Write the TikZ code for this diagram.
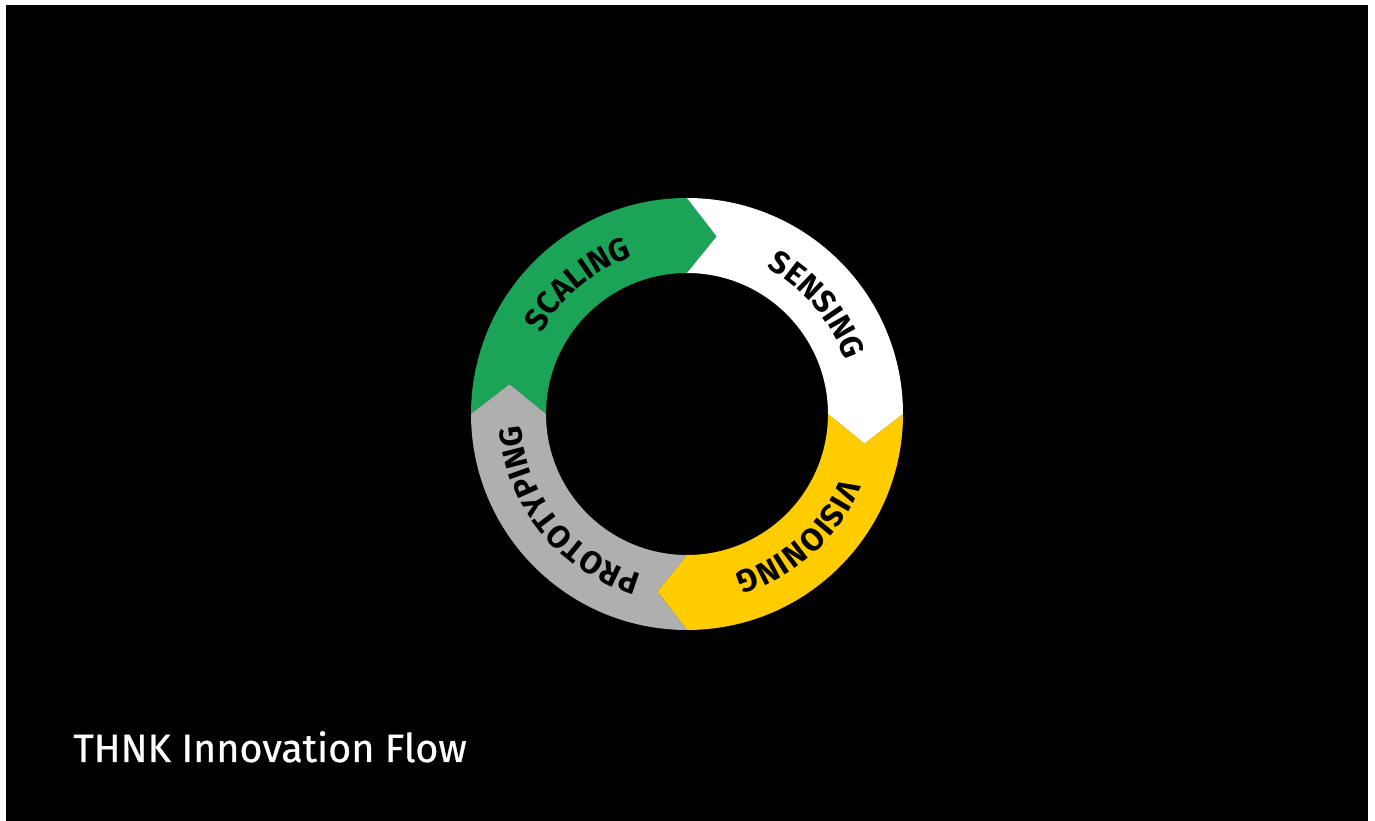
\documentclass[tikz,border=0pt]{standalone}
\usepackage{fontspec}
\setmainfont{Fira Sans}
\newfontfamily\ringfont{Fira Sans}
\newfontfamily\titlefont[FakeBold=0.6]{Fira Sans}
\usetikzlibrary{decorations.text}

\definecolor{thnkgreen}{RGB}{27,163,88}
\definecolor{thnkyellow}{RGB}{255,204,0}
\definecolor{thnkgray}{RGB}{175,175,175}

\tikzset{
  ringlabel/.style={decorate, decoration={text along path, text align=center, text={|\ringfont\bfseries\fontsize{18}{18}\selectfont|#1}}}
}

\begin{document}
\begin{tikzpicture}
        %%%%%%%%% Sfondo %%%%%%%%%
        \fill[white] (0,0) rectangle (27.5,16.42);
        \fill[black] (0.12,0) rectangle (27.36,16.32);
        \useasboundingbox (0,0) rectangle (27.5,16.42);

        \begin{scope}[shift={(13.74,8.14)}]
        %%%%%%%%% Anello %%%%%%%%%
        \foreach \a/\col in {180/thnkgreen, 90/white, 0/thnkyellow, -90/thnkgray}{
            \pgfmathsetmacro{\b}{\a-90}
            \fill[\col] (\a:4.32) arc[start angle=\a, end angle=\b, radius=4.32]
                -- (\b-9.5:3.6) -- (\b:2.82)
                arc[start angle=\b, end angle=\a, radius=2.82]
                -- (\a-9.5:3.6) -- cycle;
        }

        %%%%%%%%% Etichette %%%%%%%%%
        \path[ringlabel=SCALING] (180:3.33) arc[start angle=180, end angle=80, radius=3.33];
        \path[ringlabel=SENSING] (90:3.33) arc[start angle=90, end angle=-10, radius=3.33];
        \path[ringlabel=VISIONING] (0:3.33) arc[start angle=0, end angle=-96, radius=3.33];
        \path[ringlabel=PROTOTYPING] (270:3.33) arc[start angle=270, end angle=168, radius=3.33];
        \end{scope}

        %%%%%%%%% Titolo %%%%%%%%%
        \node[anchor=base west, inner sep=0, text=white, font=\titlefont\fontsize{22.5}{22.5}\selectfont] (title) at (1.46,1.18) {THNK Innovation Flow};
\end{tikzpicture}
\end{document}
